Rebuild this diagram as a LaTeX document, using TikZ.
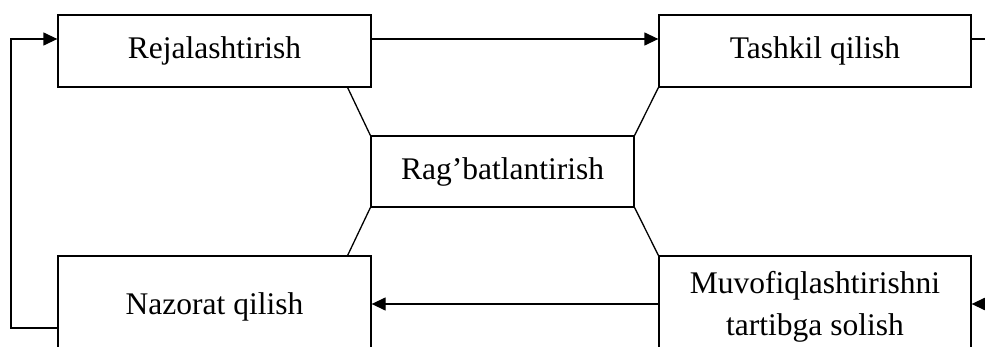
\documentclass[tikz,border=0pt]{standalone}
\usepackage{fontspec}
\setmainfont{Liberation Serif}
\usetikzlibrary{arrows.meta,calc}
\begin{document}
\begin{tikzpicture}[x=1pt,y=-1pt,
  box/.style={draw,line width=1.3pt,rectangle,inner sep=0pt,align=center,
    font=\fontsize{31.5}{42}\selectfont},
  conn/.style={line width=1.3pt},
  arr/.style={conn,-{Triangle[length=14pt,width=13pt]}}]
\useasboundingbox (0,0) rectangle (985,347);
\clip (0,0) rectangle (985,347);
\node[box,minimum width=313pt,minimum height=72pt] (rej) at (214.5,51) {Rejalashtirish};
\node[box,minimum width=312pt,minimum height=72pt] (tash) at (815,51) {Tashkil qilish};
\node[box,minimum width=263pt,minimum height=71pt] (rag) at (502.5,171.5) {Rag’batlantirish};
\node[box,minimum width=313pt,minimum height=102pt] (naz) at (214.5,307) {Nazorat qilish};
\node[box,minimum width=312pt,minimum height=102pt] (muv) at (815,307) {Muvofiqlashtirishni\\tartibga solish};
\coordinate (rloop) at (1000,39);
\coordinate (lloop) at (11,39);
% diagonals
\draw[conn] ($(rej.south east)+(-24,0)$) -- (rag.north west);
\draw[conn] (tash.south west) -- (rag.north east);
\draw[conn] (rag.south west) -- ($(naz.north east)+(-24,0)$);
\draw[conn] (rag.south east) -- (muv.north west);
% arrows
\draw[arr] ($(rej.east)+(0,-12)$) -- ($(tash.west)+(0,-12)$);
\draw[arr] ($(muv.west)+(0,-3)$) -- ($(naz.east)+(0,-3)$);
\draw[arr] ($(tash.east)+(0,-12)$) -- (rloop) |- ($(muv.east)+(0,-3)$);
\draw[arr] ($(naz.west)+(0,21)$) -| (lloop) -- ($(rej.west)+(0,-12)$);
\end{tikzpicture}
\end{document}
